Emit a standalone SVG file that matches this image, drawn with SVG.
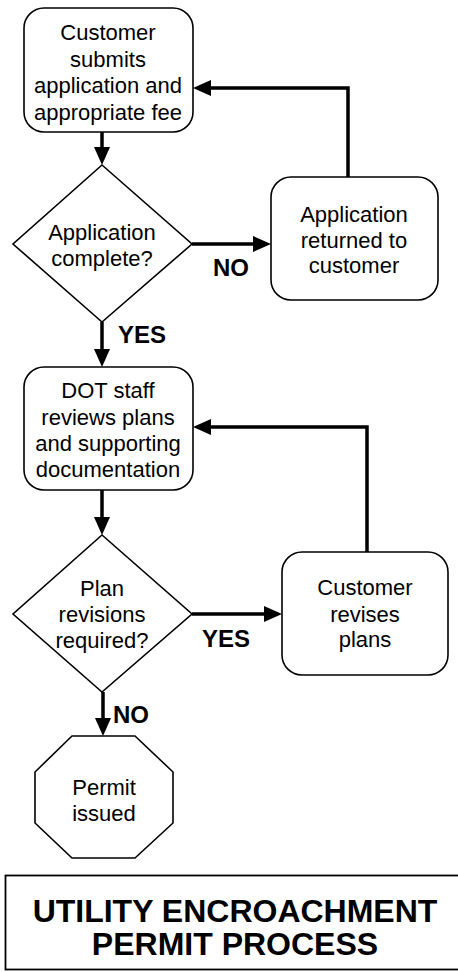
<svg xmlns="http://www.w3.org/2000/svg" width="458" height="972" viewBox="0 0 458 972">
<style>
.shape{fill:#fff;stroke:#000;stroke-width:1.6}
.t{font-family:"Liberation Sans",Arial,sans-serif;font-size:22px;fill:#000;text-anchor:middle}
.lbl{font-family:"Liberation Sans",Arial,sans-serif;font-size:24px;font-weight:bold;fill:#000}
.title{font-family:"Liberation Sans",Arial,sans-serif;font-size:32px;font-weight:bold;fill:#000;text-anchor:middle}
.c{fill:none;stroke:#000;stroke-width:3.5;marker-end:url(#ah)}
</style>
<defs>
<marker id="ah" markerUnits="userSpaceOnUse" markerWidth="18" markerHeight="16" refX="6" refY="8" orient="auto">
<path d="M0,0 L18,8 L0,16 z" fill="#000"/>
</marker>
</defs>
<rect width="458" height="972" fill="#fff"/>
<g id="connectors">
<path class="c" d="M102,132 L102,153"/>
<path class="c" d="M192,244 L259,244"/>
<path class="c" d="M348,177 L348,88 L205,88"/>
<path class="c" d="M102,322 L102,355"/>
<path class="c" d="M102,490 L102,523"/>
<path class="c" d="M192,614 L270,614"/>
<path class="c" d="M367,552 L367,427 L205,427"/>
<path class="c" d="M103,692 L103,724"/>
</g>
<g id="labels">
<text class="lbl" x="213" y="276">NO</text>
<text class="lbl" x="118" y="343">YES</text>
<text class="lbl" x="202" y="647">YES</text>
<text class="lbl" x="113" y="723">NO</text>
</g>
<g id="n1">
<rect class="shape" x="24" y="8" width="169" height="124" rx="20"/>
<text class="t" x="108" y="40">Customer</text>
<text class="t" x="108" y="66.5">submits</text>
<text class="t" x="108" y="93">application and</text>
<text class="t" x="108" y="119.5">appropriate fee</text>
</g>
<g id="d1">
<polygon class="shape" points="102,165 192,244 102,322 13,244"/>
<text class="t" x="102" y="240">Application</text>
<text class="t" x="102" y="266">complete?</text>
</g>
<g id="n2">
<rect class="shape" x="271" y="177" width="167" height="123" rx="20"/>
<text class="t" x="354" y="222">Application</text>
<text class="t" x="354" y="247.5">returned to</text>
<text class="t" x="354" y="273">customer</text>
</g>
<g id="n3">
<rect class="shape" x="24" y="367" width="169" height="123" rx="20"/>
<text class="t" x="108" y="398">DOT staff</text>
<text class="t" x="108" y="424.5">reviews plans</text>
<text class="t" x="108" y="451">and supporting</text>
<text class="t" x="108" y="477">documentation</text>
</g>
<g id="d2">
<polygon class="shape" points="102,535 192,614 102,692 13,614"/>
<text class="t" x="102" y="596">Plan</text>
<text class="t" x="102" y="622">revisions</text>
<text class="t" x="102" y="648">required?</text>
</g>
<g id="n4">
<rect class="shape" x="282" y="552" width="166" height="123" rx="20"/>
<text class="t" x="365" y="595">Customer</text>
<text class="t" x="365" y="621.5">revises</text>
<text class="t" x="365" y="647">plans</text>
</g>
<g id="n5">
<polygon class="shape" points="72,736 135,736 173,772 173,823 135,858 72,858 35,823 35,772"/>
<text class="t" x="104" y="795">Permit</text>
<text class="t" x="104" y="821">issued</text>
</g>
<g id="title">
<rect x="5.5" y="875.5" width="460" height="94" fill="#fff" stroke="#000" stroke-width="1.8"/>
<text class="title" x="235" y="922">UTILITY ENCROACHMENT</text>
<text class="title" x="235" y="955">PERMIT PROCESS</text>
</g>
</svg>
